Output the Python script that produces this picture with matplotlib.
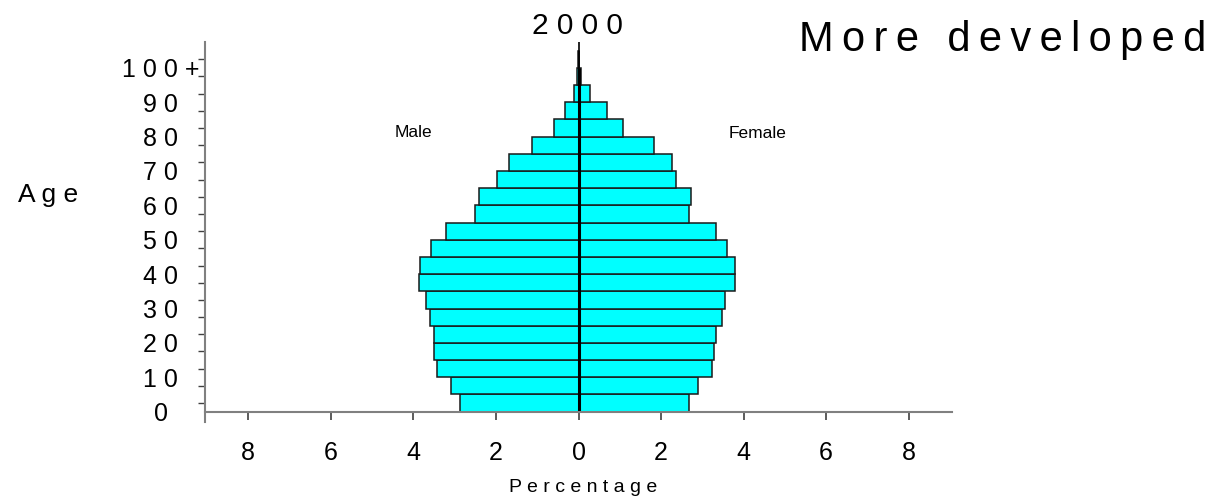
import numpy as np
import matplotlib.pyplot as plt

# Population pyramid, more developed regions, year 2000
# percentages of total population in each 5-year age group (0-4 ... 100+)
age_start = [0, 5, 10, 15, 20, 25, 30, 35, 40, 45, 50, 55, 60, 65, 70, 75, 80, 85, 90, 95, 100]
male = [2.87, 3.08, 3.43, 3.49, 3.49, 3.60, 3.69, 3.87, 3.83, 3.57, 3.22,
        2.52, 2.42, 1.98, 1.68, 1.12, 0.59, 0.32, 0.11, 0.04, 0.01]
female = [2.67, 2.89, 3.24, 3.29, 3.32, 3.48, 3.56, 3.80, 3.80, 3.61, 3.32,
          2.67, 2.73, 2.37, 2.27, 1.83, 1.07, 0.68, 0.27, 0.06, 0.01]

age_ticks = [0, 10, 20, 30, 40, 50, 60, 70, 80, 90, 100]
age_labels = ['0', '1 0', '2 0', '3 0', '4 0', '5 0', '6 0', '7 0', '8 0', '9 0', '1 0 0 +']
pct_ticks = [-8, -6, -4, -2, 0, 2, 4, 6, 8]

plt.rcParams['font.family'] = ['Liberation Sans', 'DejaVu Sans']

fig = plt.figure(figsize=(12.16, 5.01), dpi=100)
ax = fig.add_axes([0.1686, 0.1577, 0.6143, 0.7585])

cyan = '#00ffff'
edge = '#1a1a1a'
ax.barh(age_start, [-m for m in male], height=5, align='edge',
        color=cyan, edgecolor=edge, linewidth=1.1)
ax.barh(age_start, female, height=5, align='edge',
        color=cyan, edgecolor=edge, linewidth=1.1)

# centre line
ax.plot([0, 0], [0, 100], color='black', linewidth=2.2, solid_capstyle='butt')
ax.plot([0, 0], [100, 107.5], color='black', linewidth=1.2)

ax.set_xlim(-9.05, 9.05)
ax.set_ylim(-3, 107.5)

# spines: only left and bottom, grey
for s in ['top', 'right']:
    ax.spines[s].set_visible(False)
ax.spines['bottom'].set_position(('data', 0))
for s in ['left', 'bottom']:
    ax.spines[s].set_color('#808080')
    ax.spines[s].set_linewidth(1.5)

# x ticks show absolute percentages
ax.set_xticks(pct_ticks)
ax.set_xticklabels([str(abs(v)) for v in pct_ticks], fontsize=18)
ax.tick_params(axis='x', direction='out', length=6, width=1.2, color='#404040', pad=15)

# y: labels every 10 years, small ticks at group centres
ax.set_yticks(age_ticks)
ax.set_yticklabels(age_labels, fontsize=18)
ax.set_yticks([a + 2.5 for a in age_start], minor=True)
ax.tick_params(axis='y', which='major', length=0, pad=32)
ax.tick_params(axis='y', which='minor', direction='out', length=5, width=1.0, color='#404040')
plt.setp(ax.get_yticklabels(), ha='center')

ax.text(-4.0, 81.2, 'Male', fontsize=12.5, ha='center', va='center')
ax.text(4.34, 80.9, 'Female', fontsize=12.5, ha='center', va='center')

# spaced-out lettering like the original slide
ts = '\u2009'
big_title = ts.join('More') + ' ' + ts + ts + ts.join('developed')
fig.text(577 / 1216, 1 - 26 / 501, '2 0 0 0', fontsize=21.5, ha='center', va='center')
fig.text(1003 / 1216, 1 - 40 / 501, big_title, fontsize=30, ha='center', va='center')
fig.text(48 / 1216, 1 - 195 / 501, 'A g e', fontsize=19, ha='center', va='center')
fig.text(583 / 1216, 1 - 487 / 501, 'P e r c e n t a g e', fontsize=14, ha='center', va='center')

plt.savefig('out.png', dpi=100)
